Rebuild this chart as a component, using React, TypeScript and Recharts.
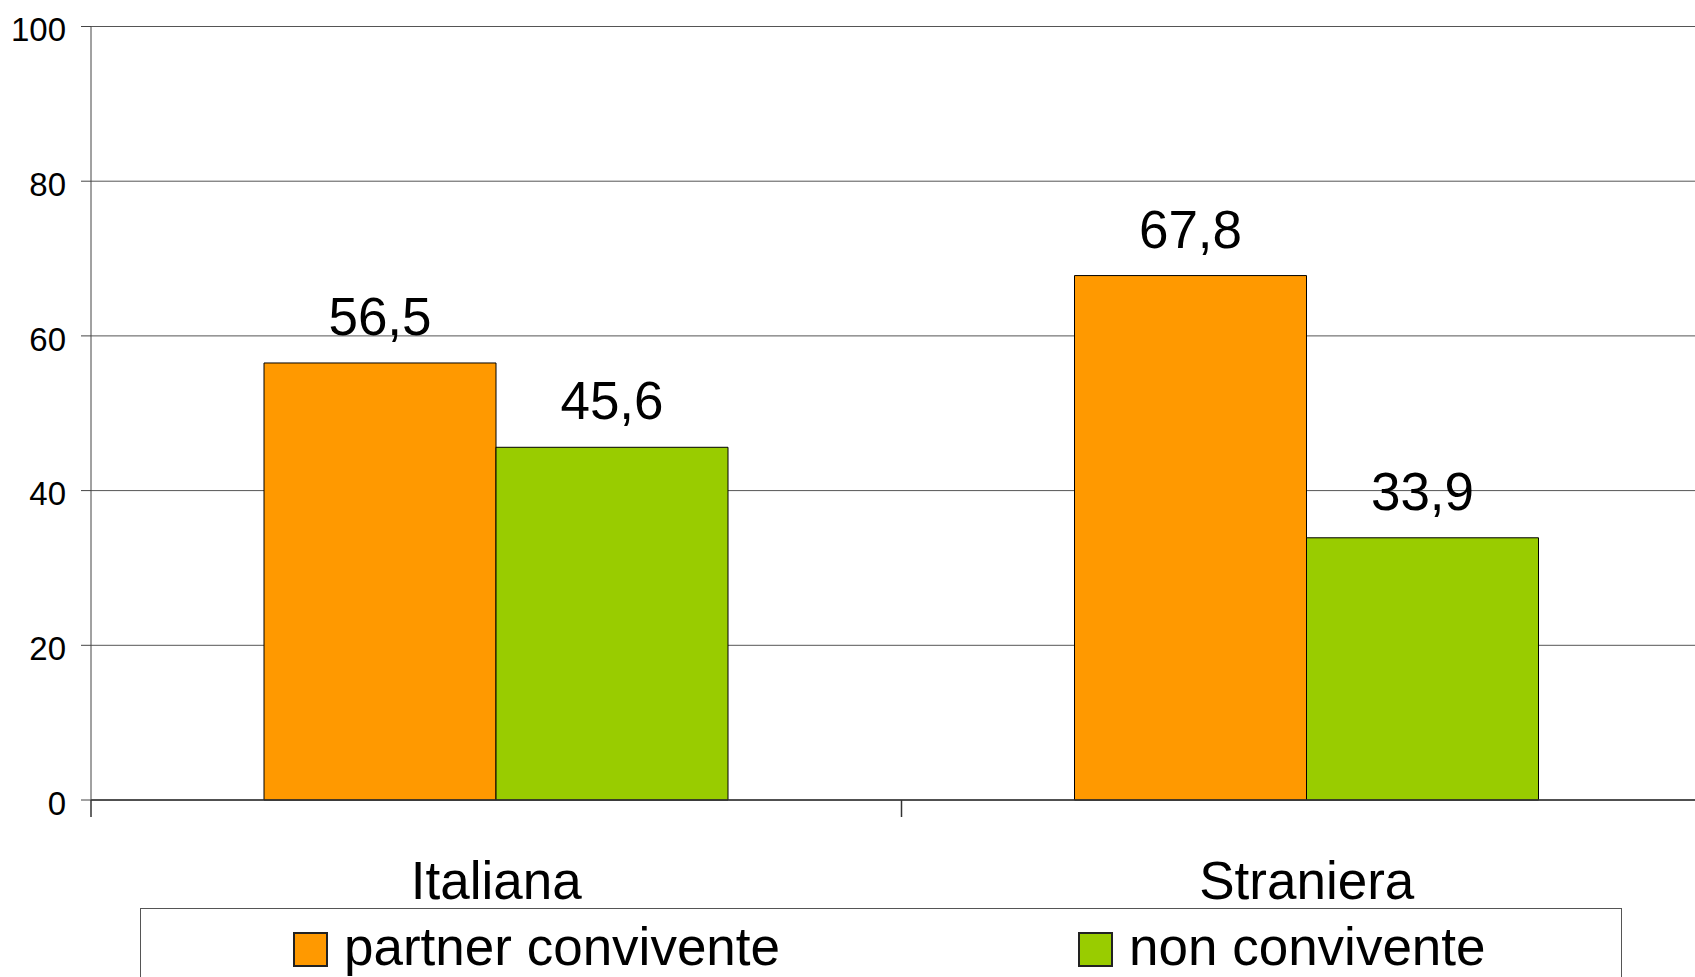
import React from 'react';
import { BarChart, Bar, XAxis, YAxis, CartesianGrid, LabelList, Legend } from 'recharts';

const categories = ['Italiana', 'Straniera'];
const partnerValues = [56.5, 67.8];
const nonValues = [45.6, 33.9];
const seriesNames = ['partner convivente', 'non convivente'];
const seriesColors = ['#FF9900', '#99CC00'];
const yTicks = [0, 20, 40, 60, 80, 100];

const data = categories.map((c, i) => ({ name: c, partner: partnerValues[i], non: nonValues[i] }));

const FONT = '"Liberation Sans", Arial, sans-serif';

const fmt = (v: any) => Number(v).toFixed(1).replace('.', ',');

const XTick = (props: any) => {
  const { x, y, payload, width, visibleTicksCount } = props;
  const bw = (width || 1620) / (visibleTicksCount || 2);
  const bx = x - bw / 2;
  return (
    <g>
      <line x1={bx} y1={y - 17} x2={bx} y2={y} stroke="#333" strokeWidth={1.5} />
      <text x={x} y={y + 82} textAnchor="middle" fontSize={53} fill="#000" fontFamily={FONT}>
        {payload.value}
      </text>
    </g>
  );
};

const YTick = (props: any) => {
  const { x, y, payload } = props;
  return (
    <text x={x} y={y + 3 + 0.355 * 33} textAnchor="end" fontSize={33} fill="#000" fontFamily={FONT}>
      {payload.value}
    </text>
  );
};

const LegendBox = () => (
  <div
    style={{
      position: 'relative',
      width: 1482,
      height: 100,
      border: '1px solid #555',
      boxSizing: 'border-box',
      fontFamily: FONT,
      background: '#fff',
    }}
  >
    {seriesNames.map((n, i) => {
      const left = i === 0 ? 152 : 937;
      return (
        <React.Fragment key={n}>
          <div
            style={{
              position: 'absolute',
              left,
              top: 23,
              width: 35,
              height: 35,
              background: seriesColors[i],
              border: '2px solid #222',
              boxSizing: 'border-box',
            }}
          />
          <div
            style={{
              position: 'absolute',
              left: left + 51,
              top: 10.5,
              fontSize: 53,
              lineHeight: 1,
              whiteSpace: 'nowrap',
              color: '#000',
            }}
          >
            {n}
          </div>
        </React.Fragment>
      );
    })}
  </div>
);

export default function App() {
  return (
    <div
      style={{
        position: 'fixed',
        left: 0,
        top: 0,
        width: 1695,
        height: 977,
        overflow: 'hidden',
        background: '#fff',
        fontFamily: FONT,
      }}
    >
      <BarChart
        width={1712}
        height={1000}
        data={data}
        margin={{ top: 26.5, right: 0, left: 0, bottom: 0 }}
        barGap={0}
      >
        <CartesianGrid vertical={false} stroke="#555" />
        <XAxis
          dataKey="name"
          height={200}
          interval={0}
          tick={<XTick />}
          tickLine={{ stroke: 'none' }}
          tickSize={17}
          tickMargin={0}
          axisLine={{ stroke: '#333', strokeWidth: 1.5 }}
        />
        <YAxis
          domain={[0, 100]}
          ticks={yTicks}
          width={91}
          tickSize={10}
          tickMargin={15}
          tick={<YTick />}
          tickLine={{ stroke: '#444' }}
          axisLine={{ stroke: '#444' }}
          interval={0}
        />
        <Legend
          layout="horizontal"
          verticalAlign="middle"
          content={() => <LegendBox />}
          wrapperStyle={{ top: 908, left: 140, width: 1482, height: 100 }}
        />
        <Bar dataKey="partner" name={seriesNames[0]} fill={seriesColors[0]} stroke="#000" strokeWidth={1} barSize={232} isAnimationActive={false}>
          <LabelList dataKey="partner" position="top" offset={28} formatter={fmt} fontSize={53} fill="#000" fontFamily={FONT} />
        </Bar>
        <Bar dataKey="non" name={seriesNames[1]} fill={seriesColors[1]} stroke="#000" strokeWidth={1} barSize={232} isAnimationActive={false}>
          <LabelList dataKey="non" position="top" offset={28} formatter={fmt} fontSize={53} fill="#000" fontFamily={FONT} />
        </Bar>
      </BarChart>
    </div>
  );
}
